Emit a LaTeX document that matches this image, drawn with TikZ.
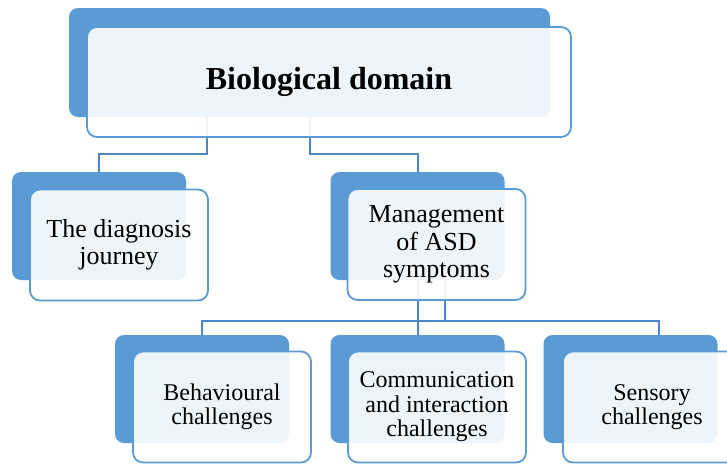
\documentclass[tikz,border=0pt]{standalone}
\usepackage{fontspec}
\setmainfont{Liberation Serif}
\definecolor{boxblue}{HTML}{5B9BD5}
\definecolor{linkblue}{HTML}{4F86C6}

\begin{document}
\begin{tikzpicture}[x=1pt, y=-1pt, draw=linkblue, align=center]
    \tikzstyle{every node}=[inner sep=0pt];
    \tikzstyle{back}=[fill=boxblue, rounded corners=9pt, minimum width=174pt, minimum height=108pt];
    \tikzstyle{front}=[draw=boxblue, line width=1.8pt, fill=white, fill opacity=0.9, text opacity=1, rounded corners=10pt, minimum width=178pt, minimum height=111pt, font=\fontsize{26}{27.5}\selectfont];
    \tikzstyle{small}=[font=\fontsize{24}{24.5}\selectfont];
    \tikzstyle{link}=[line width=2pt];

    \clip (0,0) rectangle (727,463);

    \node at (309.5, 62.5) (bd0) [back, minimum width=481pt, minimum height=109pt] {};
    \node at ( 99.0, 226)  (dj0) [back] {};
    \node at (417.5, 226)  (ms0) [back] {};
    \node at (202.0, 389)  (bc0) [back] {};
    \node at (417.5, 389)  (ci0) [back] {};
    \node at (630.5, 389)  (sc0) [back] {};

    \draw[link] ([xshift=-102.5pt]bd0.south) -- ++(0,37) -| (dj0.north);
    \draw[link] (bd0.south) -- ++(0,37) -| (ms0.north);
    \draw[link] (ms0.south) -- (ci0.north);
    \draw[link] ([xshift=27.5pt]ms0.south) -- ++(0,41) -| (bc0.north);
    \draw[link] ([xshift=27.5pt]ms0.south) -- ++(0,41) -| ([xshift=28.5pt]sc0.north);

    \node at (329.0, 82)    (bd) [front, minimum width=484pt, minimum height=110pt, font=\fontsize{32}{36}\selectfont\bfseries] {Biological domain};
    \node at (119.0, 245)   (dj) [front] {The diagnosis\\journey};
    \node at (436.5, 244.5) (ms) [front] {Management\\of ASD\\symptoms};
    \node at (222.0, 407)   (bc) [front, small] {Behavioural\\challenges};
    \node at (437.0, 407)   (ci) [front, small] {Communication\\and interaction\\challenges};
    \node at (652.0, 407)   (sc) [front, small] {Sensory\\challenges};
\end{tikzpicture}
\end{document}
